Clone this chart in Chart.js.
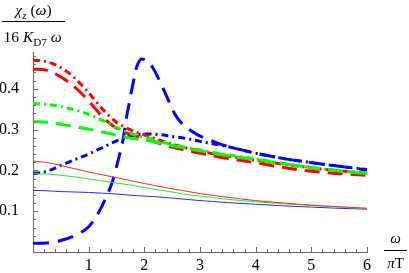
<!DOCTYPE html>
<html>
<head>
<meta charset="utf-8">
<script src="https://cdn.jsdelivr.net/npm/chart.js@4.4.0/dist/chart.umd.min.js"></script>
<style>
  html, body { margin: 0; padding: 0; background: #fff; }
  #wrap { width: 409px; height: 273px; }
</style>
</head>
<body>
<div id="wrap"><canvas id="chi" width="409" height="273"></canvas></div>
<script>
// omega / (pi T) sample points
const omega = [0, 0.25, 0.5, 0.75, 1, 1.25, 1.5, 1.75, 2, 2.25, 2.5, 2.75, 3, 3.5, 4, 4.5, 5, 5.5, 6];

// thick curves
const redDotDash   = [0.470, 0.466, 0.452, 0.426, 0.390, 0.350, 0.318, 0.299, 0.287, 0.275, 0.264, 0.255, 0.247, 0.235, 0.225, 0.215, 0.206, 0.199, 0.193];
const redDashed    = [0.448, 0.445, 0.429, 0.404, 0.370, 0.331, 0.303, 0.288, 0.278, 0.267, 0.257, 0.249, 0.242, 0.229, 0.219, 0.207, 0.198, 0.192, 0.188];
const greenDotDash = [0.364, 0.362, 0.356, 0.348, 0.337, 0.322, 0.305, 0.291, 0.281, 0.272, 0.263, 0.256, 0.250, 0.238, 0.228, 0.217, 0.207, 0.199, 0.192];
const greenDashed  = [0.319, 0.318, 0.313, 0.307, 0.301, 0.294, 0.286, 0.279, 0.274, 0.268, 0.261, 0.254, 0.248, 0.236, 0.226, 0.216, 0.207, 0.199, 0.192];
const blueDotDash  = [0.192, 0.198, 0.212, 0.226, 0.240, 0.256, 0.272, 0.284, 0.289, 0.288, 0.283, 0.278, 0.271, 0.258, 0.242, 0.229, 0.219, 0.210, 0.202];

// blue dashed has a sharp peak, so it gets its own finer sampling
const omegaPeak  = [0, 0.25, 0.5, 0.75, 1, 1.15, 1.3, 1.43, 1.53, 1.62, 1.68, 1.75, 1.8, 1.86, 1.95, 2.05, 2.15, 2.33, 2.57, 2.84, 3.29, 3.6, 4, 4.5, 5, 5.5, 6];
const blueDashed = [0.021, 0.022, 0.028, 0.040, 0.062, 0.090, 0.130, 0.174, 0.225, 0.277, 0.330, 0.380, 0.415, 0.452, 0.473, 0.468, 0.452, 0.403, 0.333, 0.297, 0.268, 0.255, 0.242, 0.229, 0.219, 0.210, 0.201];

// thin solid curves
const redThin   = [0.223, 0.219, 0.212, 0.204, 0.196, 0.189, 0.182, 0.175, 0.168, 0.161, 0.155, 0.149, 0.143, 0.134, 0.126, 0.120, 0.115, 0.111, 0.107];
const greenThin = [0.192, 0.191, 0.188, 0.184, 0.179, 0.174, 0.169, 0.164, 0.158, 0.152, 0.147, 0.141, 0.137, 0.129, 0.123, 0.118, 0.114, 0.110, 0.107];
const blueThin  = [0.151, 0.150, 0.148, 0.147, 0.146, 0.144, 0.142, 0.139, 0.137, 0.135, 0.132, 0.129, 0.126, 0.121, 0.117, 0.113, 0.110, 0.107, 0.105];

const xTicks = [1, 2, 3, 4, 5, 6];
const yTicks = [0.1, 0.2, 0.3, 0.4];

const SERIF = '"Liberation Serif", "DejaVu Serif", serif';
const DOTDASH = [7, 4, 2, 4];
const DASH = [15, 8];

function pts(xs, ys) {
  return xs.map((x, i) => ({ x: x, y: ys[i] }));
}

function line(data, color, width, dash) {
  return {
    data: data,
    borderColor: color,
    borderWidth: width,
    borderDash: dash || [],
    pointRadius: 0,
    fill: false,
    cubicInterpolationMode: "monotone",
  };
}

// small helper: draws text pieces one after the other (italic / subscript)
function richWidth(ctx, parts, size) {
  let w = 0;
  parts.forEach((p) => {
    ctx.font = (p.it ? "italic " : "") + (p.sub ? size * 0.72 : size) + "px " + SERIF;
    w += ctx.measureText(p.t).width;
  });
  return w;
}
function drawRich(ctx, x, base, parts, size) {
  parts.forEach((p) => {
    ctx.font = (p.it ? "italic " : "") + (p.sub ? size * 0.72 : size) + "px " + SERIF;
    ctx.fillText(p.t, x, base + (p.sub ? size * 0.28 : 0));
    x += ctx.measureText(p.t).width;
  });
}

// inward ticks, major and minor, the Mathematica way
const tickMarks = {
  id: "tickMarks",
  afterDraw(chart) {
    const ctx = chart.ctx;
    const xs = chart.scales.x;
    const ys = chart.scales.y;
    const x0 = xs.getPixelForValue(0);
    const y0 = ys.getPixelForValue(0);
    ctx.save();
    ctx.strokeStyle = "#666";
    ctx.lineWidth = 1;
    ctx.beginPath();
    for (let i = 1; i <= 30; i++) {
      const px = Math.round(xs.getPixelForValue(i * 0.2)) + 0.5;
      const len = i % 5 === 0 ? 5 : 3;
      ctx.moveTo(px, y0);
      ctx.lineTo(px, y0 - len);
    }
    for (let i = 1; i <= 24; i++) {
      const py = Math.round(ys.getPixelForValue(i * 0.02)) + 0.5;
      const len = i % 5 === 0 ? 5 : 3;
      ctx.moveTo(x0, py);
      ctx.lineTo(x0 + len, py);
    }
    ctx.stroke();
    ctx.restore();
  },
};

// axis labels written as fractions
const axisTitles = {
  id: "axisTitles",
  afterDraw(chart) {
    const ctx = chart.ctx;
    ctx.save();
    ctx.fillStyle = "#000";
    ctx.strokeStyle = "#000";
    ctx.textBaseline = "alphabetic";
    ctx.textAlign = "left";

    // chi_z(omega) / (16 K_D7 omega)
    const num = [{ t: "χ", it: true }, { t: "z", it: true, sub: true }, { t: " (" }, { t: "ω", it: true }, { t: ")" }];
    const den = [{ t: "16 " }, { t: "K", it: true }, { t: "D7", sub: true }, { t: " " }, { t: "ω", it: true }];
    drawRich(ctx, 33.5 - richWidth(ctx, num, 15.5) / 2, 15, num, 15.5);
    drawRich(ctx, 3.5, 41.5, den, 15.5);
    ctx.lineWidth = 1;
    ctx.beginPath();
    ctx.moveTo(2, 21.5);
    ctx.lineTo(65, 21.5);
    ctx.stroke();

    // omega / (pi T)
    const top = [{ t: "ω", it: true }];
    const bot = [{ t: "π", it: true }, { t: "T" }];
    const cx = 395.5;
    drawRich(ctx, cx - richWidth(ctx, top, 15) / 2, 243, top, 15);
    drawRich(ctx, cx - richWidth(ctx, bot, 15) / 2, 268, bot, 15);
    ctx.beginPath();
    ctx.moveTo(384, 250.5);
    ctx.lineTo(407, 250.5);
    ctx.stroke();
    ctx.restore();
  },
};

new Chart(document.getElementById("chi"), {
  type: "line",
  data: {
    datasets: [
      line(pts(omega, redThin), "rgb(255,40,40)", 1),
      line(pts(omega, greenThin), "rgb(40,230,40)", 1),
      line(pts(omega, blueThin), "rgb(40,40,255)", 1),
      line(pts(omega, greenDashed), "rgb(0,255,0)", 3, DASH),
      line(pts(omega, greenDotDash), "rgb(0,255,0)", 3, DOTDASH),
      line(pts(omega, redDashed), "rgb(255,0,0)", 3, DASH),
      line(pts(omega, redDotDash), "rgb(255,0,0)", 3, DOTDASH),
      line(pts(omega, blueDotDash), "rgb(0,0,255)", 3, DOTDASH),
      line(pts(omegaPeak, blueDashed), "rgb(0,0,255)", 3, [16, 9]),
    ],
  },
  options: {
    responsive: false,
    animation: false,
    layout: { padding: { top: 52, right: 42, left: 0, bottom: 0 } },
    plugins: { legend: { display: false }, tooltip: { enabled: false } },
    scales: {
      x: {
        type: "linear",
        min: 0,
        max: 6,
        afterFit: (s) => { s.height = 21; },
        grid: { display: false },
        border: { display: true, color: "#666", width: 1 },
        ticks: {
          stepSize: 1,
          padding: -4,
          color: "#000",
          font: { family: SERIF, size: 16 },
          callback: (v) => (xTicks.includes(v) ? String(v) : ""),
        },
      },
      y: {
        type: "linear",
        min: 0,
        max: 0.49,
        afterFit: (s) => { s.width = 33; },
        grid: { display: false },
        border: { display: true, color: "#666", width: 1 },
        ticks: {
          stepSize: 0.1,
          padding: 6,
          color: "#000",
          font: { family: SERIF, size: 16 },
          callback: (v) => (yTicks.some((t) => Math.abs(t - v) < 1e-6) ? v.toFixed(1) : ""),
        },
      },
    },
  },
  plugins: [tickMarks, axisTitles],
});
</script>
</body>
</html>
